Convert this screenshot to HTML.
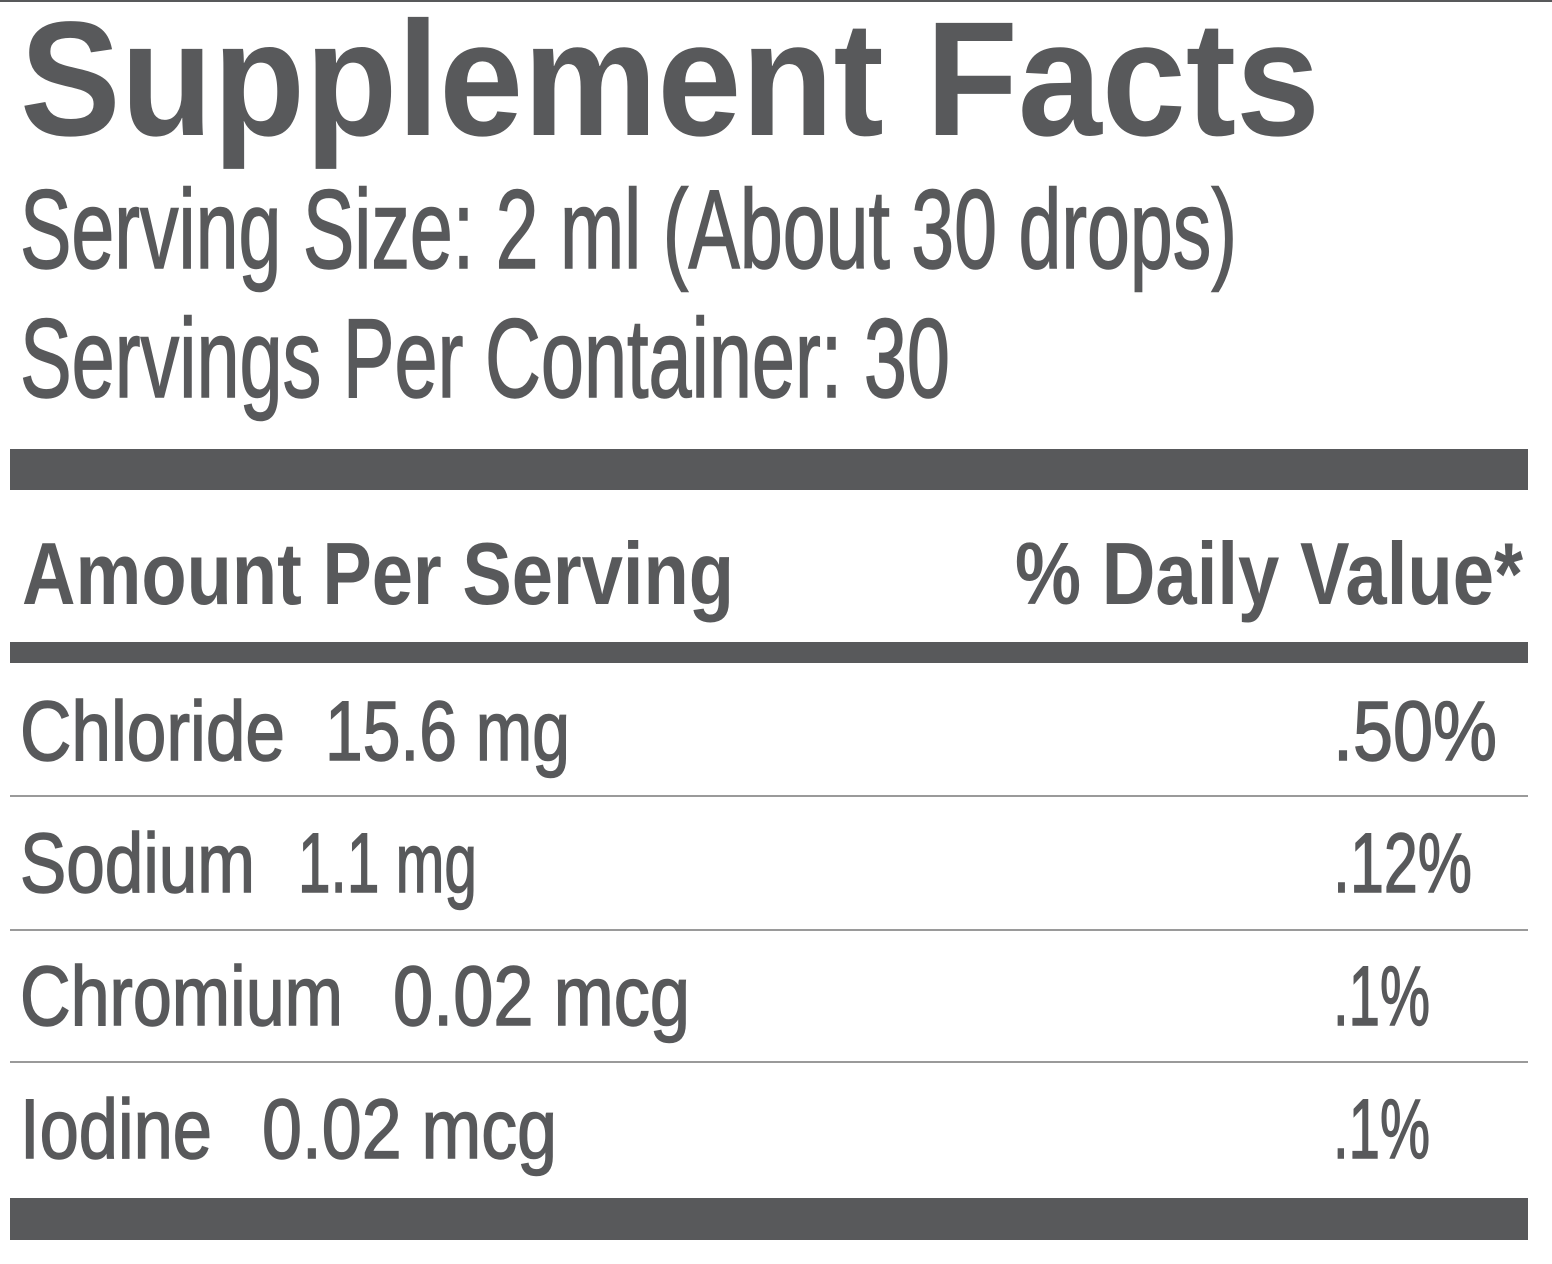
<!DOCTYPE html>
<html><head><meta charset="utf-8"><style>html,body{margin:0;padding:0;background:#fff}svg{display:block}.r{stroke:#58595b;stroke-width:1.5}</style></head>
<body>
<svg width="1552" height="1264" viewBox="0 0 1552 1264" xmlns="http://www.w3.org/2000/svg">
<g fill="#58595b" font-family="Liberation Sans, sans-serif">
<rect x="0" y="0" width="1552" height="2"/>
<text x="20" y="135" font-size="163" font-weight="bold" textLength="1300" lengthAdjust="spacingAndGlyphs">Supplement Facts</text>
<text class="r" x="20" y="268" font-size="112" textLength="1217" lengthAdjust="spacingAndGlyphs">Serving Size: 2 ml (About 30 drops)</text>
<text class="r" x="20" y="397" font-size="112" textLength="930" lengthAdjust="spacingAndGlyphs">Servings Per Container: 30</text>
<rect x="10" y="449" width="1518" height="41"/>
<text x="22" y="604" font-size="88" font-weight="bold" textLength="712" lengthAdjust="spacingAndGlyphs">Amount Per Serving</text>
<text x="1015" y="604" font-size="88" font-weight="bold" textLength="508" lengthAdjust="spacingAndGlyphs">% Daily Value*</text>
<rect x="10" y="642" width="1518" height="21"/>
<text class="r" x="20" y="760" font-size="84" textLength="265" lengthAdjust="spacingAndGlyphs">Chloride</text>
<text class="r" x="325" y="760" font-size="84" textLength="245" lengthAdjust="spacingAndGlyphs">15.6 mg</text>
<text class="r" x="1333" y="760" font-size="84" textLength="164" lengthAdjust="spacingAndGlyphs">.50%</text>
<rect x="10" y="795" width="1518" height="2" fill="#9a9a9a"/>
<text class="r" x="20" y="892" font-size="84" textLength="235" lengthAdjust="spacingAndGlyphs">Sodium</text>
<text class="r" x="298" y="892" font-size="84" textLength="179" lengthAdjust="spacingAndGlyphs">1.1 mg</text>
<text class="r" x="1333" y="892" font-size="84" textLength="139" lengthAdjust="spacingAndGlyphs">.12%</text>
<rect x="10" y="929" width="1518" height="2" fill="#9a9a9a"/>
<text class="r" x="20" y="1025" font-size="84" textLength="323" lengthAdjust="spacingAndGlyphs">Chromium</text>
<text class="r" x="393" y="1025" font-size="84" textLength="297" lengthAdjust="spacingAndGlyphs">0.02 mcg</text>
<text class="r" x="1333" y="1025" font-size="84" textLength="97" lengthAdjust="spacingAndGlyphs">.1%</text>
<rect x="10" y="1061" width="1518" height="2" fill="#9a9a9a"/>
<text class="r" x="20" y="1158" font-size="84" textLength="192" lengthAdjust="spacingAndGlyphs">Iodine</text>
<text class="r" x="262" y="1158" font-size="84" textLength="295" lengthAdjust="spacingAndGlyphs">0.02 mcg</text>
<text class="r" x="1333" y="1158" font-size="84" textLength="97" lengthAdjust="spacingAndGlyphs">.1%</text>
<rect x="10" y="1198" width="1518" height="42"/>
</g>
</svg>
</body></html>
